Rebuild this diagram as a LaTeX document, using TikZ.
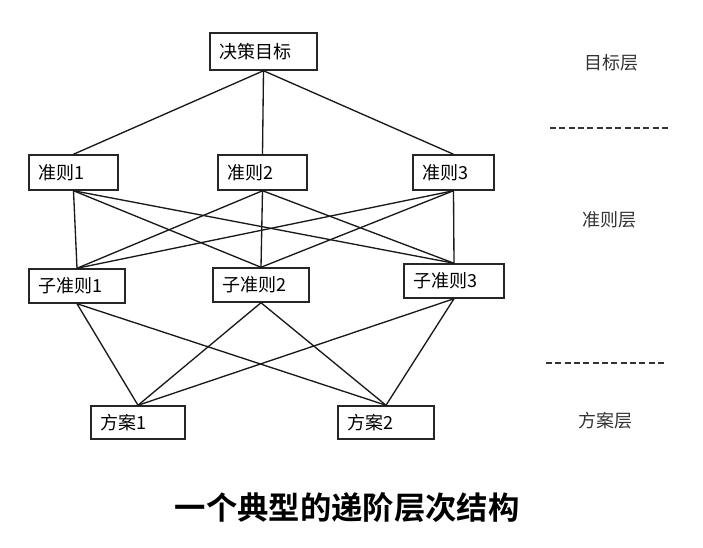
\documentclass[tikz,border=0pt]{standalone}
\usepackage{fontspec}
\setmainfont{Noto Sans CJK SC}[BoldFont={Noto Sans CJK SC Bold}]
\begin{document}
\begin{tikzpicture}[x=0.75pt, y=-0.75pt,
  box/.style={rectangle, draw=black!85, line width=1.1pt, inner xsep=7pt, inner ysep=0pt,
    align=left, font=\fontsize{13.5pt}{15pt}\selectfont},
  link/.style={black!90, line width=1pt},
  layer/.style={font=\fontsize{13.5pt}{15pt}\selectfont, text=black!80},
  sep/.style={black!80, line width=0.8pt, dash pattern=on 4.5pt off 2.5pt}]
\useasboundingbox (0,0) rectangle (703,548);
% goal
\node [box, text width=66.25pt, minimum height=27.75pt] (goal) at (263.5,51.5) {决策目标};
% criteria
\node [box, text width=52.75pt, minimum height=26.25pt] (crit1) at (73.5,172.5) {准则1};
\node [box, text width=52.75pt, minimum height=26.25pt] (crit2) at (262.5,172.5) {准则2};
\node [box, text width=46.75pt, minimum height=26.25pt] (crit3) at (453.5,172.5) {准则3};
% sub criteria
\node [box, text width=58pt, minimum height=25.5pt] (sub1) at (77,286) {子准则1};
\node [box, text width=58pt, minimum height=25.5pt] (sub2) at (261,285) {子准则2};
\node [box, text width=61pt, minimum height=25.5pt] (sub3) at (454,281) {子准则3};
% alternatives
\node [box, text width=56.5pt, minimum height=24.75pt] (alt1) at (138,422.5) {方案1};
\node [box, text width=58pt, minimum height=24.75pt] (alt2) at (386,422.5) {方案2};
% connectors
\foreach \c in {crit1,crit2,crit3} \draw [link] (goal.south) -- (\c.north);
\foreach \c in {crit1,crit2,crit3}
  \foreach \s in {sub1,sub2,sub3} \draw [link] (\c.south) -- (\s.north);
\foreach \s in {sub1,sub2,sub3}
  \foreach \a in {alt1,alt2} \draw [link] (\s.south) -- (\a.north);
% layer names
\node [layer] (lgoal) at (611,63) {目标层};
\node [layer] (lcrit) at (609,220) {准则层};
\node [layer] (lalt) at (605,421) {方案层};
\draw [sep] (550,128) -- (668,128);
\draw [sep] (546,363) -- (664,363);
% title
\node [font=\fontsize{23.5pt}{28pt}\selectfont\bfseries] (title) at (347,508) {一个典型的递阶层次结构};
\end{tikzpicture}
\end{document}
